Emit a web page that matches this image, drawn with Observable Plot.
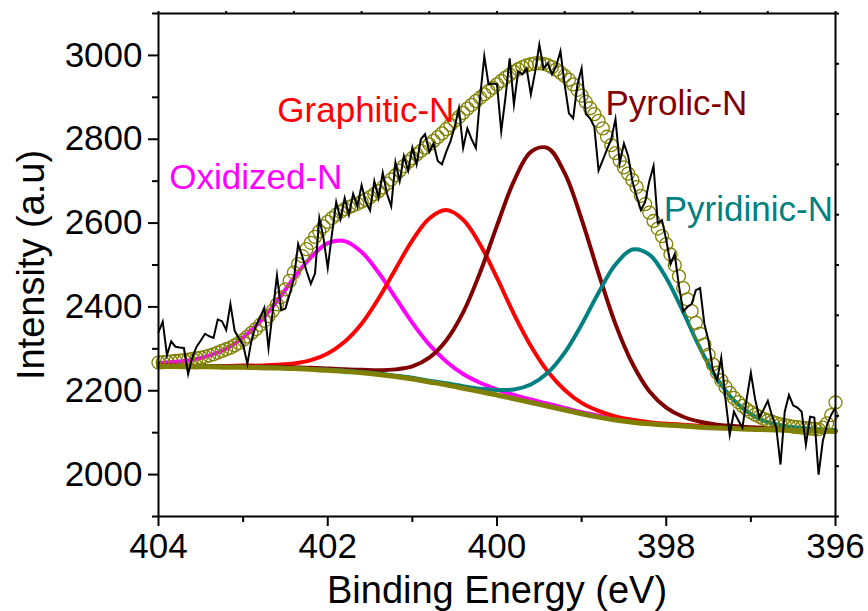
<!DOCTYPE html>
<html>
<head>
<meta charset="utf-8">
<script src="https://cdn.jsdelivr.net/npm/d3@7"></script>
<script src="https://cdn.jsdelivr.net/npm/@observablehq/plot@0.6"></script>
<style>
  html, body { margin: 0; padding: 0; background: #ffffff; }
</style>
</head>
<body>
<div id="chart"></div>
<script>
// ---------- DATA ----------
// Binding energy grid starts at 404 eV and runs downward.
const startEnergy = 404;
const fineStep = 0.05;   // eV, raw data and fitted envelope
const coarseStep = 0.2;  // eV, background and component peaks

// Cumulative fit (open circles), 404.00 -> 396.00 eV
const envelope = [
  2267,2268,2269,2270,2271,2272,2273,2274,2276,2277,
  2279,2281,2284,2287,2291,2295,2299,2303,2308,2314,
  2321,2329,2338,2347,2357,2367,2378,2391,2406,2423,
  2442,2462,2482,2502,2521,2538,2553,2567,2580,2592,
  2603,2612,2620,2627,2633,2638,2642,2646,2651,2656,
  2662,2669,2676,2685,2694,2704,2714,2725,2736,2746,
  2755,2764,2772,2780,2788,2796,2805,2814,2824,2834,
  2844,2853,2863,2873,2882,2891,2899,2907,2915,2923,
  2931,2939,2947,2954,2961,2967,2972,2976,2979,2981,
  2981,2980,2977,2972,2966,2959,2951,2942,2931,2918,
  2904,2889,2874,2860,2844,2826,2806,2786,2767,2749,
  2733,2718,2703,2686,2665,2645,2625,2605,2587,2569,
  2550,2525,2500,2473,2445,2418,2390,2362,2336,2310,
  2286,2263,2243,2225,2209,2195,2183,2173,2164,2156,
  2149,2143,2138,2133,2129,2126,2123,2120,2118,2116,
  2114,2113,2112,2111,2110,2109,2108,2112,2122,2142,
  2172
];

// Measured spectrum (black line), 404.00 -> 396.00 eV
const measured = [
  2340,2365,2285,2318,2305,2303,2302,2240,2280,2305,
  2320,2336,2330,2326,2370,2366,2345,2407,2343,2325,
  2310,2264,2322,2355,2375,2398,2302,2390,2475,2392,
  2396,2430,2467,2550,2520,2485,2455,2480,2612,2564,
  2493,2574,2650,2610,2660,2620,2670,2640,2690,2650,
  2630,2700,2660,2720,2670,2640,2745,2700,2760,2725,
  2780,2740,2800,2812,2770,2790,2748,2740,2770,2795,
  2830,2874,2779,2826,2800,2779,2900,2998,2931,2933,
  2931,2819,2900,2993,2883,2962,2955,2969,2907,2960,
  3026,2969,2981,2955,2975,3010,2930,2862,2850,2930,
  2969,2860,2850,2830,2725,2750,2776,2800,2848,2743,
  2790,2760,2700,2664,2631,2650,2700,2736,2600,2607,
  2560,2502,2526,2450,2390,2400,2407,2440,2445,2360,
  2319,2250,2224,2279,2180,2095,2150,2130,2112,2180,
  2243,2180,2136,2155,2176,2140,2112,2024,2150,2190,
  2165,2160,2150,2071,2138,2136,2000,2080,2119,2143,
  2160
];

// Background, 404.0 -> 396.0 eV every 0.2 eV
const background = [
  2258,2258,2257,2257,2256,2256,2255,2254,2253,2251,
  2249,2246,2243,2239,2234,2228,2221,2214,2206,2198,
  2190,2181,2172,2163,2154,2145,2137,2130,2125,2121,
  2118,2116,2113,2111,2110,2108,2107,2106,2105,2104,
  2103
];

// Component peaks (on background), 404.0 -> 396.0 eV every 0.2 eV
const oxidizedN = [
  2266,2269,2274,2284,2300,2327,2365,2414,2469,2518,
  2552,2557,2531,2482,2422,2362,2310,2270,2240,2219,
  2203,2190,2179,2169,2159,2149,2141,2133,2128,2123,
  2120,2118,2115,2112,2111,2109,2108,2107,2106,2105,
  2104
];
const graphiticN = [
  2260,2260,2259,2259,2259,2260,2260,2262,2265,2273,
  2289,2317,2360,2420,2490,2559,2611,2631,2608,2549,
  2469,2383,2307,2246,2202,2171,2152,2139,2131,2125,
  2121,2119,2116,2113,2112,2110,2109,2107,2106,2105,
  2104
];
const pyrolicN = [
  2259,2260,2259,2259,2258,2258,2258,2257,2256,2255,
  2253,2251,2250,2249,2251,2258,2279,2320,2387,2482,
  2594,2700,2770,2779,2719,2609,2480,2359,2265,2199,
  2160,2138,2126,2119,2116,2113,2111,2110,2108,2107,
  2105
];
const pyridinicN = [
  2259,2259,2258,2258,2257,2257,2256,2255,2254,2252,
  2250,2248,2245,2241,2236,2231,2224,2218,2211,2205,
  2202,2203,2215,2243,2291,2358,2434,2501,2537,2525,
  2469,2388,2301,2229,2177,2144,2125,2116,2111,2108,
  2106
];

const componentNames = ["Oxidized-N", "Graphitic-N", "Pyrolic-N", "Pyridinic-N"];

// Tick values
const xMajorTicks = [404, 402, 400, 398, 396];
const xMinorTicks = [403, 401, 399, 397];
const yMajorTicks = [2000, 2200, 2400, 2600, 2800, 3000];
const yMinorTicks = [1900, 2100, 2300, 2500, 2700, 2900, 3100];
const topTicks = [404, 403.2, 402.4, 401.6, 400.8, 400, 399.2, 398.4, 397.6, 396.8, 396];
const rightTicks = [1900, 2020, 2140, 2260, 2380, 2500, 2620, 2740, 2860, 2980, 3100];

const xTitle = "Binding Energy (eV)";
const yTitle = "Intensity (a.u)";

// ---------- BUILD ----------
const toRows = (values, step) =>
  values.map((v, i) => ({e: +(startEnergy - i * step).toFixed(2), v}));

const componentStyles = [
  {values: oxidizedN, color: "#ff00ff", lx: 402.85, ly: 2681},
  {values: graphiticN, color: "#ff0000", lx: 401.55, ly: 2840},
  {values: pyrolicN, color: "#800000", lx: 397.88, ly: 2857},
  {values: pyridinicN, color: "#008080", lx: 397.03, ly: 2604}
];

const font = "'Liberation Sans', Arial, Helvetica, sans-serif";

const chart = Plot.plot({
  width: 868,
  height: 611,
  marginLeft: 158,
  marginRight: 33,
  marginTop: 13,
  marginBottom: 95,
  style: {fontFamily: font, fontSize: "35px", color: "black", background: "white", overflow: "visible"},
  x: {domain: [404, 396], axis: null, label: null},
  y: {domain: [1900, 3100], axis: null, label: null},
  marks: [
    ...componentStyles.map(c =>
      Plot.line(toRows(c.values, coarseStep), {x: "e", y: "v", stroke: c.color, strokeWidth: 4, curve: "catmull-rom"})
    ),
    Plot.line(toRows(background, coarseStep), {x: "e", y: "v", stroke: "#808000", strokeWidth: 5, curve: "catmull-rom"}),
    Plot.dot(toRows(envelope, fineStep), {x: "e", y: "v", r: 6.5, stroke: "#808000", strokeWidth: 1.3, fill: "none"}),
    Plot.line(toRows(measured, fineStep), {x: "e", y: "v", stroke: "black", strokeWidth: 2, strokeLinejoin: "miter", strokeMiterlimit: 10}),
    Plot.frame({stroke: "black", strokeWidth: 2}),
    Plot.axisX({anchor: "bottom", ticks: xMajorTicks, tickSize: 10, tickPadding: 7, tickFormat: "d", strokeWidth: 2, label: null}),
    Plot.axisX({anchor: "bottom", ticks: xMinorTicks, tickSize: 6, tickFormat: () => "", strokeWidth: 2, label: null}),
    Plot.axisX({anchor: "top", ticks: topTicks, tickSize: 3, tickFormat: () => "", strokeWidth: 2, label: null}),
    Plot.axisY({anchor: "left", ticks: yMajorTicks, tickSize: 10, tickPadding: 6, tickFormat: "d", strokeWidth: 2, label: null}),
    Plot.axisY({anchor: "left", ticks: yMinorTicks, tickSize: 6, tickFormat: () => "", strokeWidth: 2, label: null}),
    Plot.axisY({anchor: "right", ticks: rightTicks, tickSize: 3, tickFormat: () => "", strokeWidth: 2, label: null}),
    Plot.text([xTitle], {text: d => d, frameAnchor: "bottom", textAnchor: "middle", dy: 86, lineAnchor: "bottom", fontSize: 38, fill: "black"}),
    Plot.text([yTitle], {text: d => d, frameAnchor: "left", textAnchor: "middle", dx: -115, rotate: -90, lineAnchor: "bottom", fontSize: 38, fill: "black"}),
    ...componentStyles.map((c, i) =>
      Plot.text([componentNames[i]], {x: () => c.lx, y: () => c.ly, text: d => d, fill: c.color, fontSize: 35, lineAnchor: "bottom"})
    )
  ]
});

document.getElementById("chart").appendChild(chart);
</script>
</body>
</html>
